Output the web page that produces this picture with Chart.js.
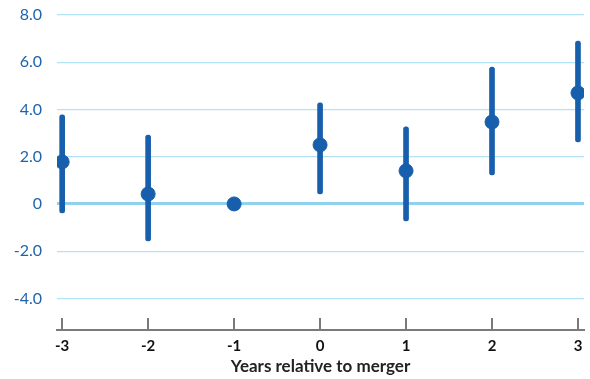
<!DOCTYPE html>
<html>
<head>
<meta charset="utf-8">
<script src="https://cdn.jsdelivr.net/npm/chart.js@4.4.1/dist/chart.umd.min.js"></script>
<style>
  html, body { margin: 0; padding: 0; background: #fff; }
  #wrap { width: 590px; height: 379px; }
</style>
</head>
<body>
<div id="wrap"><canvas id="chart" width="590" height="379"></canvas></div>
<script>
var years = [-3, -2, -1, 0, 1, 2, 3];
var estimate = [1.78, 0.42, 0, 2.5, 1.4, 3.47, 4.7];
var ciLow = [-0.38, -1.57, null, 0.42, -0.72, 1.23, 2.63];
var ciHigh = [3.77, 2.92, null, 4.28, 3.26, 5.8, 6.9];
var yTicks = [-4, -2, 0, 2, 4, 6, 8];

var blue = '#175ead';

var points = years.map(function (yr, i) { return { x: yr, y: estimate[i] }; });
var ranges = [];
years.forEach(function (yr, i) {
    if (ciLow[i] !== null) ranges.push({ x: yr, y: [ciLow[i], ciHigh[i]] });
});

// x axis line sits at the bottom of the tick marks
var axisLine = {
    id: 'axisLine',
    afterDraw: function (chart) {
        var a = chart.chartArea, c = chart.ctx;
        c.save();
        c.strokeStyle = '#7a7a7a';
        c.lineWidth = 2;
        c.beginPath();
        c.moveTo(a.left - 1, a.bottom + 12);
        c.lineTo(a.right + 1, a.bottom + 12);
        c.stroke();
        c.restore();
    }
};

var ctx = document.getElementById('chart').getContext('2d');
var chart = new Chart(ctx, {
    type: 'scatter',
    data: {
        datasets: [{
            type: 'bar',
            data: ranges,
            backgroundColor: blue,
            barThickness: 5,
            borderRadius: 3,
            borderSkipped: false,
            order: 1
        }, {
            type: 'scatter',
            data: points,
            backgroundColor: blue,
            borderColor: blue,
            pointRadius: 7,
            pointHoverRadius: 7,
            order: 0
        }]
    },
    plugins: [axisLine],
    options: {
        responsive: false,
        animation: false,
        layout: { autoPadding: false, padding: { top: 15, right: 6, left: 0, bottom: 0 } },
        plugins: {
            legend: { display: false },
            tooltip: { enabled: false }
        },
        scales: {
            x: {
                type: 'linear',
                offset: false,
                min: -3.06,
                max: 3.07,
                afterBuildTicks: function (scale) {
                    scale.ticks = years.map(function (v) { return { value: v }; });
                },
                afterFit: function (scale) {
                    scale.height = 61;
                    scale.paddingLeft = 0;
                    scale.paddingRight = 0;
                },
                border: { display: false },
                grid: {
                    offset: false,
                    drawOnChartArea: false,
                    drawTicks: true,
                    tickLength: 12,
                    color: '#7a7a7a',
                    lineWidth: 2
                },
                ticks: {
                    padding: 7,
                    color: '#111',
                    font: { family: 'Lato', size: 15, weight: 'bold' }
                },
                title: {
                    display: true,
                    text: 'Years relative to merger',
                    color: '#222',
                    padding: { top: 0, bottom: 2 },
                    font: { family: 'Lato', size: 17, weight: 'bold' }
                }
            },
            y: {
                min: -4.83,
                max: 8,
                afterBuildTicks: function (scale) {
                    scale.ticks = yTicks.map(function (v) { return { value: v }; });
                },
                afterFit: function (scale) {
                    scale.width = 57;
                    scale.paddingTop = 0;
                    scale.paddingBottom = 0;
                },
                border: { display: false },
                grid: {
                    drawTicks: false,
                    color: function (c) { return c.tick && c.tick.value === 0 ? '#8fd2f0' : '#b3e1f5'; },
                    lineWidth: function (c) { return c.tick && c.tick.value === 0 ? 3 : 1.2; }
                },
                ticks: {
                    padding: 15,
                    color: '#1f63ad',
                    font: { family: 'Lato', size: 16 },
                    callback: function (v) { return v === 0 ? '0' : v.toFixed(1); }
                }
            }
        }
    }
});
</script>
</body>
</html>
